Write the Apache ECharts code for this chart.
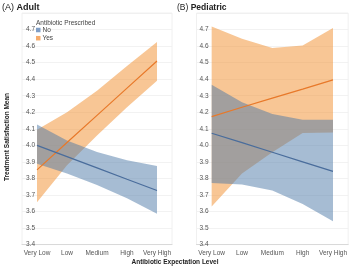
<!DOCTYPE html>
<html><head><meta charset="utf-8">
<script src="https://cdn.jsdelivr.net/npm/echarts@6/dist/echarts.min.js"></script>
<style>html,body{margin:0;padding:0;background:#fff}#c{width:350px;height:266px}</style>
</head><body><div id="c"></div>
<script>
var categories = ['Very Low','Low','Medium','High','Very High'];
var yTicks = [3.4,3.5,3.6,3.7,3.8,3.9,4.0,4.1,4.2,4.3,4.4,4.5,4.6,4.7];
// Panel A: Adult
var adultNoMean  = [4.00, 3.932, 3.864, 3.795, 3.727];
var adultNoLow   = [3.888, 3.83, 3.76, 3.68, 3.586];
var adultNoHigh  = [4.126, 4.03, 3.96, 3.91, 3.875];
var adultYesMean = [3.852, 4.017, 4.181, 4.346, 4.51];
var adultYesLow  = [3.656, 3.88, 4.06, 4.23, 4.39];
var adultYesHigh = [4.094, 4.20, 4.33, 4.48, 4.625];
// Panel B: Pediatric
var pedNoMean  = [4.073, 4.016, 3.958, 3.90, 3.843];
var pedNoLow   = [3.773, 3.763, 3.727, 3.646, 3.541];
var pedNoHigh  = [4.367, 4.26, 4.19, 4.154, 4.154];
var pedYesMean = [4.174, 4.23, 4.285, 4.34, 4.396];
var pedYesLow  = [3.63, 3.83, 3.958, 4.075, 4.078];
var pedYesHigh = [4.718, 4.644, 4.589, 4.603, 4.71];

var ORANGE = 'rgba(242,142,43,0.5)', BLUE = 'rgba(78,121,167,0.5)';
var LORANGE = '#e8792a', LBLUE = '#4a6d9c';
var FONT = 'Liberation Sans';

function diff(a,b){return a.map(function(v,i){return +(b[i]-v).toFixed(4);});}
function band(name, idx, low, high, color, stack){
  return [
    {type:'line', name:name, xAxisIndex:idx, yAxisIndex:idx, stack:stack, data:low,
     symbol:'none', lineStyle:{opacity:0}, silent:true, animation:false},
    {type:'line', name:name, xAxisIndex:idx, yAxisIndex:idx, stack:stack, data:diff(low,high),
     symbol:'none', lineStyle:{opacity:0}, areaStyle:{color:color, opacity:1}, silent:true, animation:false}
  ];
}
function meanLine(name, idx, data, color){
  return {type:'line', name:name, xAxisIndex:idx, yAxisIndex:idx, data:data, symbol:'none',
    lineStyle:{color:color, width:1.2}, animation:false};
}
function xAx(idx){
  return {type:'category', gridIndex:idx, data:categories, boundaryGap:true,
    axisLine:{show:true, lineStyle:{color:'#d9d9d9'}}, axisTick:{show:false},
    axisLabel:{fontFamily:FONT, fontSize:6.5, color:'#555', margin:5, interval:0, hideOverlap:false}};
}
function yAx(idx, margin){
  return {type:'value', gridIndex:idx, min:3.4, max:4.8, interval:0.1,
    axisLine:{show:false}, axisTick:{show:false},
    splitLine:{lineStyle:{color:'#efefef', width:0.8}},
    axisLabel:{fontFamily:FONT, fontSize:6.5, color:'#555', margin:margin,
      formatter:function(v){ var r=Math.round(v*10)/10; return yTicks.indexOf(r)>=0 ? r.toFixed(1) : ''; }}};
}

var chart = echarts.init(document.getElementById('c'), null, {renderer:'canvas'});
var series = [].concat(
  band('Yes',0,adultYesLow,adultYesHigh,ORANGE,'aY'),
  band('No',0,adultNoLow,adultNoHigh,BLUE,'aN'),
  [meanLine('Yes',0,adultYesMean,LORANGE), meanLine('No',0,adultNoMean,LBLUE)],
  band('Yes',1,pedYesLow,pedYesHigh,ORANGE,'pY'),
  band('No',1,pedNoLow,pedNoHigh,BLUE,'pN'),
  [meanLine('Yes',1,pedYesMean,LORANGE), meanLine('No',1,pedNoMean,LBLUE)]
);
chart.setOption({
  animation:false,
  grid:[
    {left:22, top:13, width:150, height:231.6, show:true, borderColor:'#ececec', borderWidth:0.8},
    {left:196.5, top:13, width:152.5, height:231.6, show:true, borderColor:'#ececec', borderWidth:0.8}
  ],
  xAxis:[xAx(0), xAx(1)],
  yAxis:[yAx(0,-13), yAx(1,-12)],
  legend:{orient:'vertical', left:34, top:26.5, padding:[0,2,0,2], itemWidth:4.5, itemHeight:4.5, itemGap:1.2,
    icon:'rect', textStyle:{fontFamily:FONT, fontSize:6.5, color:'#444', lineHeight:5, height:5, padding:[0,0,0,-3]},
    data:[{name:'No', itemStyle:{color:'#7f9ec6'}}, {name:'Yes', itemStyle:{color:'#f6ac6c'}}],
    selectedMode:false},
  graphic:[
    {type:'text', left:2, top:3.5, style:{text:'{n|(A) }{b|Adult}', rich:{n:{fontFamily:FONT,fontSize:9,fill:'#222'},b:{fontFamily:FONT,fontSize:9,fontWeight:'bold',fill:'#222'}}}},
    {type:'text', left:177, top:3.5, style:{text:'{n|(B) }{b|Pediatric}', rich:{n:{fontFamily:FONT,fontSize:8.5,fill:'#222'},b:{fontFamily:FONT,fontSize:8.5,fontWeight:'bold',fill:'#222'}}}},
    {type:'text', left:36, top:19.5, style:{text:'Antibiotic Prescribed', fontFamily:FONT, fontSize:6.5, fill:'#444'}},
    {type:'text', x:7, y:137, rotation:Math.PI/2, style:{text:'Treatment Satisfaction Mean', fontFamily:FONT, fontSize:6.5, fontWeight:'bold', fill:'#222', align:'center', verticalAlign:'middle'}},
    {type:'text', x:175, y:262, style:{text:'Antibiotic Expectation Level', fontFamily:FONT, fontSize:6.5, fontWeight:'bold', fill:'#222', align:'center', verticalAlign:'middle'}}
  ],
  series:series
});
</script></body></html>
